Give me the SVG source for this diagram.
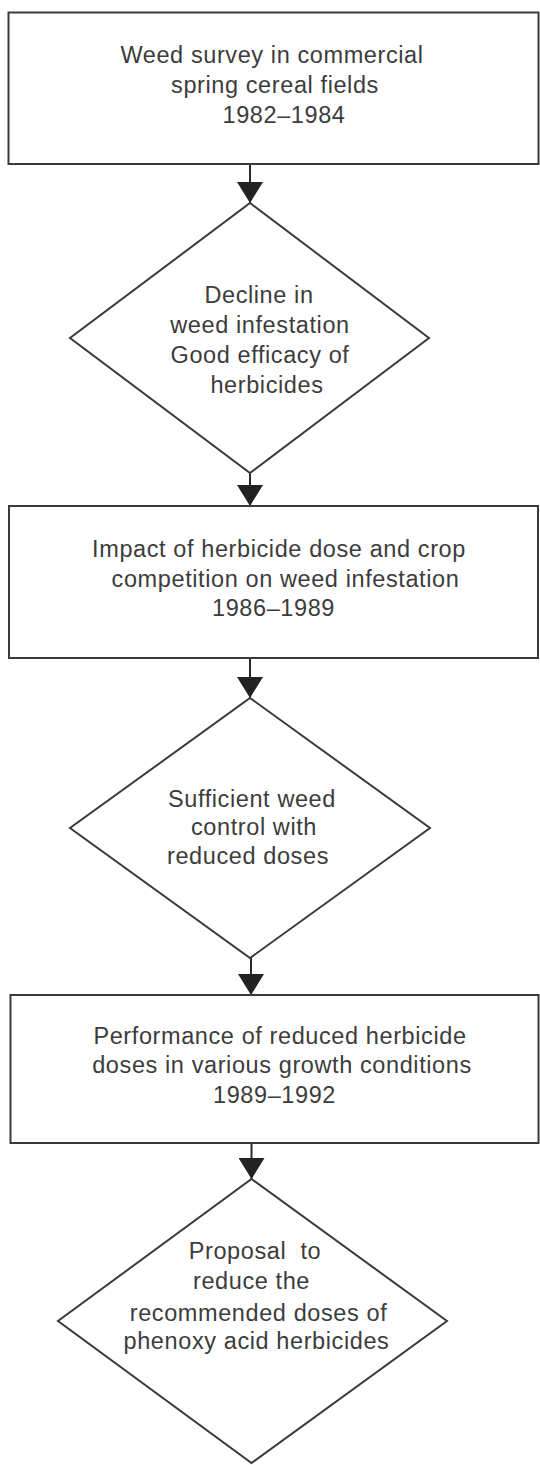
<svg xmlns="http://www.w3.org/2000/svg" width="540" height="1465" viewBox="0 0 540 1465">
  <defs>
    <marker id="arrow" markerUnits="userSpaceOnUse" markerWidth="22" markerHeight="26" refX="21" refY="13" orient="auto">
      <path d="M0,0 L21,13 L0,26 Z" fill="#222"/>
    </marker>
    <style>
      .box { fill: #ffffff; stroke: #3a3a3a; stroke-width: 2; }
      .dia { fill: #ffffff; stroke: #3a3a3a; stroke-width: 2; }
      .conn { fill: none; stroke: #2a2a2a; stroke-width: 2; }
      .lbl { font-family: "Liberation Sans", Arial, Helvetica, sans-serif; font-size: 23.5px; letter-spacing: 0.6px; fill: #3c3c3c; text-anchor: middle; }
    </style>
  </defs>
  <rect width="540" height="1465" fill="#ffffff"/>

  <g id="connectors">
    <line class="conn" x1="250" y1="164" x2="250" y2="203" marker-end="url(#arrow)"/>
    <line class="conn" x1="250" y1="473" x2="250" y2="506" marker-end="url(#arrow)"/>
    <line class="conn" x1="250" y1="658" x2="250" y2="698" marker-end="url(#arrow)"/>
    <line class="conn" x1="251" y1="958" x2="251" y2="995" marker-end="url(#arrow)"/>
    <line class="conn" x1="251.5" y1="1143" x2="251.5" y2="1179" marker-end="url(#arrow)"/>
  </g>

  <g id="node-survey">
    <rect class="box" x="8.5" y="12.5" width="530" height="151.5"/>
    <text class="lbl" x="272" y="63">Weed survey in commercial</text>
    <text class="lbl" x="275" y="93">spring cereal fields</text>
    <text class="lbl" x="284" y="123">1982–1984</text>
  </g>

  <g id="node-decline">
    <polygon class="dia" points="250,203 429,338 250,473 70,338"/>
    <text class="lbl" x="259" y="303">Decline in</text>
    <text class="lbl" x="260" y="333">weed infestation</text>
    <text class="lbl" x="260" y="363">Good efficacy of</text>
    <text class="lbl" x="267" y="393">herbicides</text>
  </g>

  <g id="node-impact">
    <rect class="box" x="9" y="506" width="529" height="152"/>
    <text class="lbl" x="279" y="557">Impact of herbicide dose and crop</text>
    <text class="lbl" x="285.5" y="587">competition on weed infestation</text>
    <text class="lbl" x="273.5" y="616">1986–1989</text>
  </g>

  <g id="node-sufficient">
    <polygon class="dia" points="250,698 430,828 250,958 70,828"/>
    <text class="lbl" x="252" y="807">Sufficient weed</text>
    <text class="lbl" x="254" y="835">control with</text>
    <text class="lbl" x="248" y="864">reduced doses</text>
  </g>

  <g id="node-performance">
    <rect class="box" x="10.5" y="995" width="528" height="148"/>
    <text class="lbl" x="280" y="1044">Performance of reduced herbicide</text>
    <text class="lbl" x="282" y="1073">doses in various growth conditions</text>
    <text class="lbl" x="274.5" y="1103">1989–1992</text>
  </g>

  <g id="node-proposal">
    <polygon class="dia" points="251.5,1179 447,1321 251.5,1463 58,1321"/>
    <text class="lbl" x="255" y="1259" xml:space="preserve">Proposal  to</text>
    <text class="lbl" x="251.5" y="1289">reduce the</text>
    <text class="lbl" x="258.5" y="1321">recommended doses of</text>
    <text class="lbl" x="256.5" y="1349">phenoxy acid herbicides</text>
  </g>
</svg>
